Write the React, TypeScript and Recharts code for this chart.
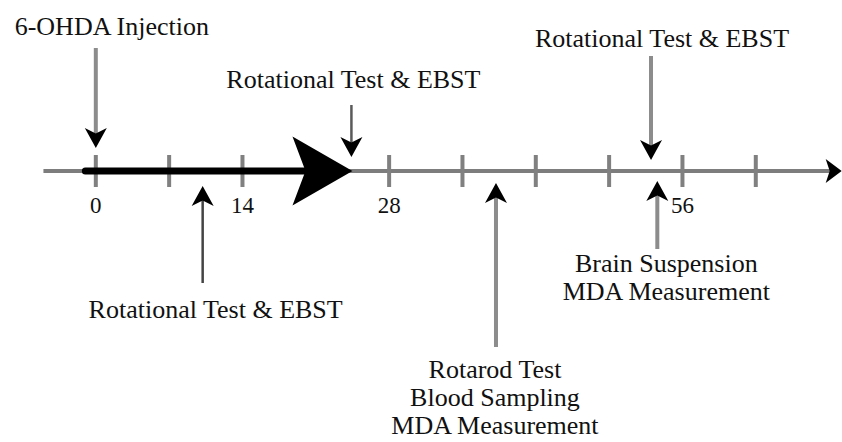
import { ComposedChart, XAxis, YAxis, ReferenceLine } from 'recharts'

// ── time line (days) ─────────────────────────────────────
const tickDays = [0, 7, 14, 21, 28, 35, 42, 49, 56, 63]
const tickLabels = ['0', '', '14', '', '28', '', '', '', '56', '']
const axisFrom = -5
const axisTo = 71.2
const lesionFrom = -1
const lesionTo = 24.5

// ── events on the time line ──────────────────────────────
const eventDays = [0, 24.4, 53, 10.2, 38.2, 53.6]
const eventTexts = [
  ['6-OHDA Injection'],
  ['Rotational Test & EBST'],
  ['Rotational Test & EBST'],
  ['Rotational Test & EBST'],
  ['Rotarod Test', 'Blood Sampling', 'MDA Measurement'],
  ['Brain Suspension', 'MDA Measurement'],
]

// drawing layout (px): arrow tail y, tip y, shaft width/colour, text offset & first baseline
const eventLayout = [
  { tail: 48, tip: 148, sw: 4, col: '#8c8c8c', dx: 16, ty: 35 },
  { tail: 105, tip: 157, sw: 2.5, col: '#5a5a5a', dx: 2, ty: 88 },
  { tail: 56, tip: 160, sw: 4, col: '#8c8c8c', dx: 11, ty: 47 },
  { tail: 283, tip: 186, sw: 2.5, col: '#444', dx: 13, ty: 318 },
  { tail: 347, tip: 183, sw: 4, col: '#8c8c8c', dx: -1, ty: 378 },
  { tail: 249, tip: 181, sw: 4, col: '#8c8c8c', dx: 9, ty: 272 },
]

const W = 842
const H = 442
const AXIS_Y = 171
const FONT = '"Liberation Serif", "Times New Roman", serif'
const TXT = 26
const LINE_H = 28

// arrow head, tip at (x, y), dir 1 = pointing down, -1 = up
const headV = (x: number, y: number, dir: number, w = 22, len = 20) =>
  `M${x},${y} L${x - w / 2},${y - dir * len} L${x},${y - dir * len * 0.72} L${x + w / 2},${y - dir * len} Z`
const headH = (x: number, y: number, w: number, len: number, notch: number) =>
  `M${x},${y} L${x - len},${y - w / 2} L${x - len + notch},${y} L${x - len},${y + w / 2} Z`

function EventArrow(p: any, i: number) {
  const l = eventLayout[i]
  const x = p.x1
  const dir = l.tip > l.tail ? 1 : -1
  const lines = eventTexts[i]
  return (
    <g>
      <line x1={x} y1={l.tail} x2={x} y2={l.tip - dir * 14} stroke={l.col} strokeWidth={l.sw} />
      <path d={headV(x, l.tip, dir)} fill="#000" />
      <text x={x + l.dx} y={l.ty} textAnchor="middle" fontFamily={FONT} fontSize={TXT} fill="#111">
        {lines.map((s, k) => (
          <tspan key={k} x={x + l.dx} y={l.ty + k * LINE_H}>{s}</tspan>
        ))}
      </text>
    </g>
  )
}

export default function App() {
  const data = tickDays.map(d => ({ day: d }))
  return (
    <div style={{ position: 'absolute', left: 0, top: 0, background: '#fff' }}>
      <ComposedChart width={W} height={H} data={data} margin={{ top: 0, right: 0, bottom: 0, left: 0 }}>
        <XAxis type="number" dataKey="day" domain={[-9.146, 71.23]} allowDataOverflow hide height={0} />
        <YAxis type="number" domain={[0, H]} reversed allowDataOverflow hide width={0} />

        {/* main axis */}
        <ReferenceLine
          segment={[{ x: axisFrom, y: AXIS_Y }, { x: axisTo, y: AXIS_Y }]}
          shape={(p: any) => (
            <g>
              <line x1={p.x1} y1={p.y1} x2={p.x2 - 10} y2={p.y2} stroke="#7d7d7d" strokeWidth={4} />
              <path d={headH(p.x2, p.y2, 24, 16, 4)} fill="#000" />
            </g>
          )}
        />

        {/* week ticks */}
        {tickDays.map((d, i) => (
          <ReferenceLine
            key={d}
            segment={[{ x: d, y: 155 }, { x: d, y: 187 }]}
            shape={(p: any) => (
              <g>
                <line x1={p.x1} y1={p.y1} x2={p.x2} y2={p.y2} stroke="#808080" strokeWidth={4} />
                {tickLabels[i] && (
                  <text x={p.x1} y={213} textAnchor="middle" fontFamily={FONT} fontSize={23} fill="#111">
                    {tickLabels[i]}
                  </text>
                )}
              </g>
            )}
          />
        ))}

        {/* lesion period */}
        <ReferenceLine
          segment={[{ x: lesionFrom, y: AXIS_Y }, { x: lesionTo, y: AXIS_Y }]}
          shape={(p: any) => (
            <g>
              <line x1={p.x1} y1={p.y1} x2={p.x2 - 40} y2={p.y2} stroke="#000" strokeWidth={7} strokeLinecap="round" />
              <path d={headH(p.x2, p.y2, 69, 60, 13)} fill="#000" />
            </g>
          )}
        />

        {/* events */}
        {eventDays.map((d, i) => (
          <ReferenceLine
            key={i}
            segment={[{ x: d, y: eventLayout[i].tail }, { x: d, y: eventLayout[i].tip }]}
            shape={(p: any) => EventArrow(p, i)}
          />
        ))}
      </ComposedChart>
    </div>
  )
}
